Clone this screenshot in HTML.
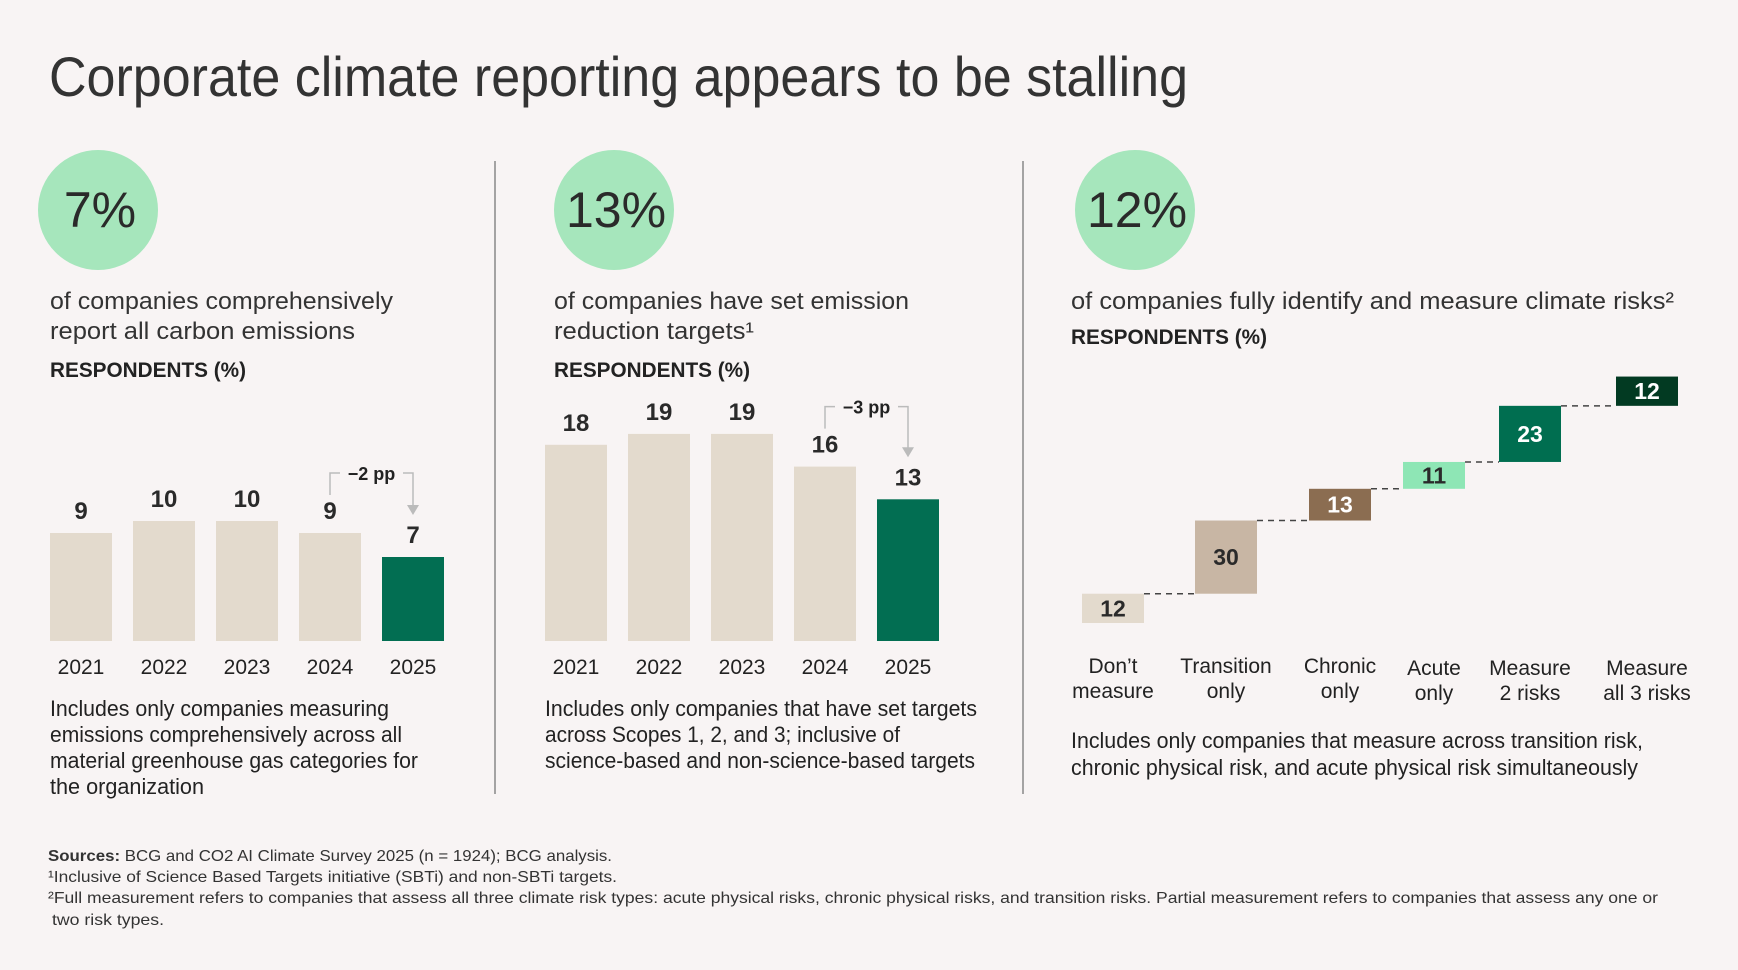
<!DOCTYPE html>
<html><head><meta charset="utf-8"><style>
html,body{margin:0;padding:0;background:#f8f4f4;}
svg{display:block;font-family:"Liberation Sans",sans-serif;}
.t{fill:#333;}
.b{font-weight:bold;fill:#222;}
</style></head><body>
<svg id="s" width="1738" height="970" viewBox="0 0 1738 970">
<rect width="1738" height="970" fill="#f8f4f4"/>
<text class="t" x="49" y="96" font-size="56" textLength="1139" lengthAdjust="spacingAndGlyphs" fill="#3a3a3a">Corporate climate reporting appears to be stalling</text>

<line x1="495" y1="161" x2="495" y2="794" stroke="#888" stroke-width="1.5"/>
<line x1="1023" y1="161" x2="1023" y2="794" stroke="#888" stroke-width="1.5"/>

<g>
<circle cx="98" cy="210" r="60" fill="#a6e6bc"/>
<text x="100" y="227" font-size="50" text-anchor="middle" fill="#2a2a2a">7%</text>
<text class="t" x="50" y="309" font-size="24" textLength="343" lengthAdjust="spacingAndGlyphs">of companies comprehensively</text>
<text class="t" x="50" y="339" font-size="24" textLength="305" lengthAdjust="spacingAndGlyphs">report all carbon emissions</text>
<text class="b" x="50" y="377" font-size="21" textLength="196" lengthAdjust="spacingAndGlyphs">RESPONDENTS (%)</text>
</g>
<g>
<circle cx="614" cy="210" r="60" fill="#a6e6bc"/>
<text x="616" y="227" font-size="50" text-anchor="middle" fill="#2a2a2a">13%</text>
<text class="t" x="554" y="309" font-size="24" textLength="355" lengthAdjust="spacingAndGlyphs">of companies have set emission</text>
<text class="t" x="554" y="339" font-size="24" textLength="200" lengthAdjust="spacingAndGlyphs">reduction targets¹</text>
<text class="b" x="554" y="377" font-size="21" textLength="196" lengthAdjust="spacingAndGlyphs">RESPONDENTS (%)</text>
</g>
<g>
<circle cx="1135" cy="210" r="60" fill="#a6e6bc"/>
<text x="1137" y="227" font-size="50" text-anchor="middle" fill="#2a2a2a">12%</text>
<text class="t" x="1071" y="309" font-size="24" textLength="603" lengthAdjust="spacingAndGlyphs">of companies fully identify and measure climate risks²</text>
<text class="b" x="1071" y="344" font-size="21" textLength="196" lengthAdjust="spacingAndGlyphs">RESPONDENTS (%)</text>
</g>

<g font-size="22" fill="#222">
<text x="50" y="716" textLength="339" lengthAdjust="spacingAndGlyphs">Includes only companies measuring</text>
<text x="50" y="742" textLength="352" lengthAdjust="spacingAndGlyphs">emissions comprehensively across all</text>
<text x="50" y="768" textLength="368" lengthAdjust="spacingAndGlyphs">material greenhouse gas categories for</text>
<text x="50" y="794" textLength="154" lengthAdjust="spacingAndGlyphs">the organization</text>
</g>
<g font-size="22" fill="#222">
<text x="545" y="716" textLength="432" lengthAdjust="spacingAndGlyphs">Includes only companies that have set targets</text>
<text x="545" y="742" textLength="355" lengthAdjust="spacingAndGlyphs">across Scopes 1, 2, and 3; inclusive of</text>
<text x="545" y="768" textLength="430" lengthAdjust="spacingAndGlyphs">science-based and non-science-based targets</text>
</g>
<g font-size="22" fill="#222">
<text x="1071" y="748" textLength="572" lengthAdjust="spacingAndGlyphs">Includes only companies that measure across transition risk,</text>
<text x="1071" y="775" textLength="567" lengthAdjust="spacingAndGlyphs">chronic physical risk, and acute physical risk simultaneously</text>
</g>
<g font-size="16" fill="#333">
<text x="48" y="861" textLength="564" lengthAdjust="spacingAndGlyphs"><tspan font-weight="bold">Sources:</tspan> BCG and CO2 AI Climate Survey 2025 (n = 1924); BCG analysis.</text>
<text x="48" y="882" textLength="569" lengthAdjust="spacingAndGlyphs">¹Inclusive of Science Based Targets initiative (SBTi) and non-SBTi targets.</text>
<text x="48" y="903" textLength="1610" lengthAdjust="spacingAndGlyphs">²Full measurement refers to companies that assess all three climate risk types: acute physical risks, chronic physical risks, and transition risks. Partial measurement refers to companies that assess any one or</text>
<text x="52" y="925" textLength="112" lengthAdjust="spacingAndGlyphs">two risk types.</text>
</g>
<g id="charts"></g>
</svg>
<script>
const years = ["2021","2022","2023","2024","2025"];
const reportValues = [9,10,10,9,7];
const targetValues = [18,19,19,16,13];
const riskCategories = [["Don’t","measure"],["Transition","only"],["Chronic","only"],["Acute","only"],["Measure","2 risks"],["Measure","all 3 risks"]];
const riskValues = [12,30,13,11,23,12];
const deltaLabels = ["−2 pp","−3 pp"];

const NS="http://www.w3.org/2000/svg";
const root=document.getElementById('charts');
function mk(tag,attrs,parent){const e=document.createElementNS(NS,tag);for(const k in attrs)e.setAttribute(k,attrs[k]);(parent||root).appendChild(e);return e;}

function barChart(vals,x0,unit,name,delta){
  const g=mk('g',{});
  
  
  const base=641, step=83, w=62;
  const xc=i=>x0+i*step+w/2, y=v=>base-v*unit;
  vals.forEach((v,i)=>{
    const r=mk('rect',{x:xc(i)-w/2,y:y(v),width:w,height:v*unit,fill:i===vals.length-1?'#026e52':'#e3dacd'},g);
    
    
    const t=mk('text',{x:xc(i),y:y(v)-14,'font-size':24,'font-weight':'bold','text-anchor':'middle',fill:'#2a2a2a'},g);
    t.textContent=v;
    
    
    const yl=mk('text',{x:xc(i),y:674,'font-size':21,'text-anchor':'middle',fill:'#222'},g);
    yl.textContent=years[i];
    
    
  });
  const n=vals.length, a=xc(n-2), b=xc(n-1);
  const top=y(Math.max(vals[n-2],vals[n-1]))-60;
  const ag=mk('g',{},g);
  
  
  mk('path',{d:`M${a} ${top+22} V${top} H${a+10} M${b-10} ${top} H${b} V${y(vals[n-1])-50}`,stroke:'#bbb','stroke-width':1.5,fill:'none'},ag);
  mk('path',{d:`M${b-6} ${y(vals[n-1])-52} L${b+6} ${y(vals[n-1])-52} L${b} ${y(vals[n-1])-42} Z`,fill:'#bbb'},ag);
  const dt=mk('text',{x:(a+b)/2,y:top+7,'font-size':18,'font-weight':'bold','text-anchor':'middle',fill:'#222'},ag);
  dt.textContent=delta;
}
barChart(reportValues,50,12,'chart-carbon-reporting',deltaLabels[0]);
barChart(targetValues,545,10.9,'chart-emission-targets',deltaLabels[1]);

(function(){
  const g=mk('g',{});
  
  
  const base=623, unit=2.44, w=62;
  const centers=[1113,1226,1340,1434,1530,1647];
  const colors=['#e3dacd','#c8b6a4','#8b6d51','#8ee6b5','#006e50','#023a22'];
  const txt=['#2a2a2a','#2a2a2a','#fff','#2a2a2a','#fff','#fff'];
  let cum=0;
  riskValues.forEach((v,i)=>{
    const y0=base-cum*unit, y1=base-(cum+v)*unit;
    const r=mk('rect',{x:centers[i]-w/2,y:y1,width:w,height:y0-y1,fill:colors[i]},g);
    
    
    const t=mk('text',{x:centers[i],y:(y0+y1)/2+8,'font-size':23,'font-weight':'bold','text-anchor':'middle',fill:txt[i]},g);
    t.textContent=v;
    
    
    if(i<riskValues.length-1){
      const c=mk('line',{x1:centers[i]+w/2,y1:y1,x2:centers[i+1]-w/2,y2:y1,stroke:'#444','stroke-width':1.5,'stroke-dasharray':'6 5'},g);
      
      
    }
    const dy=(i===3||i===4||i===5)?2:0;
    riskCategories[i].forEach((ln,j)=>{
      const l=mk('text',{x:centers[i],y:673+dy+j*25,'font-size':21,'text-anchor':'middle',fill:'#222'},g);
      l.textContent=ln;
      
      
    });
    cum+=v;
  });
})();
</script>
</body></html>
